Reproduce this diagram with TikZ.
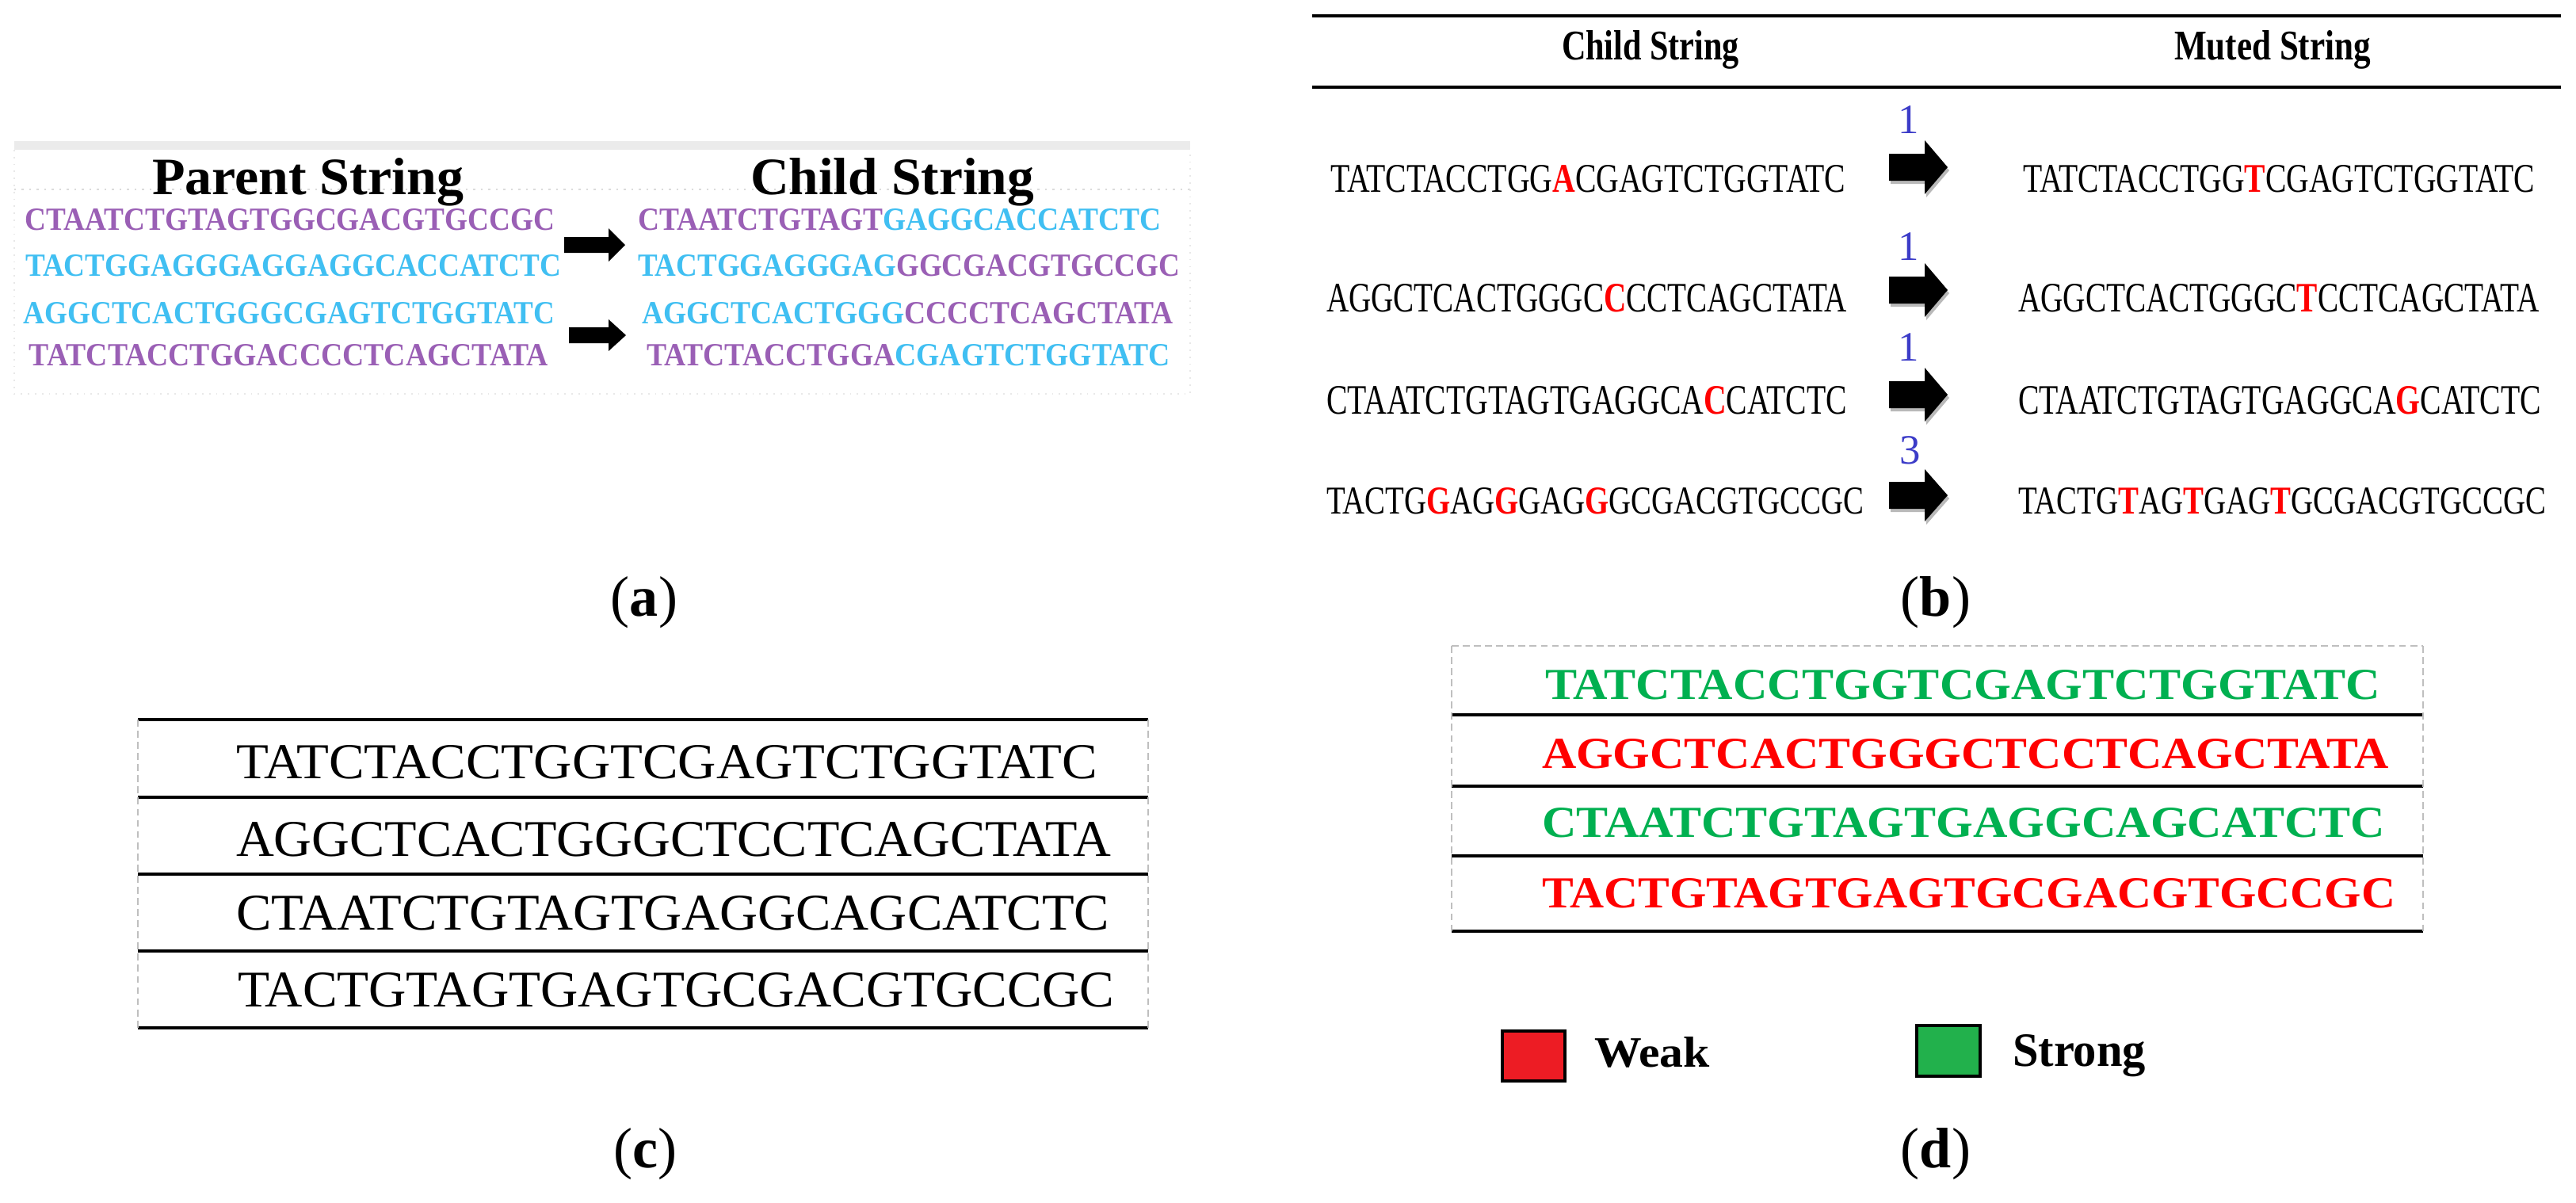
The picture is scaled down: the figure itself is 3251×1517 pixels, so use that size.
\documentclass[tikz,border=0pt]{standalone}
\usepackage{fontspec}
\setmainfont{Liberation Serif}
\usepackage{graphicx}
\definecolor{dpurple}{HTML}{9A5FB5}
\definecolor{dblue}{HTML}{40BFF2}
\definecolor{dgreen}{HTML}{00B050}
\definecolor{dred}{HTML}{FF0000}
\definecolor{lred}{HTML}{ED1C24}
\definecolor{lgreen}{HTML}{22B14C}
\definecolor{nblue}{HTML}{3C3CC8}
\newlength\pxu
\setlength\pxu{0.01cm}
\newcommand\fitbox[3]{\resizebox{#1\pxu}{#2\pxu}{#3}}
\newcommand\rl[1]{\textcolor{dred}{\textbf{#1}}}
% block arrow: x0 xhead xtip ycenter shafthalf headhalf
\newcommand\barrowfill[7]{%
  \fill[#7] (#1,#4-#5) -- (#2,#4-#5) -- (#2,#4-#6) -- (#3,#4) -- (#2,#4+#6) -- (#2,#4+#5) -- (#1,#4+#5) -- cycle;}
\newcommand\barrow[6]{%
  \begin{scope}[shift={(2,4)}]\barrowfill{#1}{#2}{#3}{#4}{#5}{#6}{gray!55}\end{scope}
  \barrowfill{#1}{#2}{#3}{#4}{#5}{#6}{black}}
\begin{document}
\begin{tikzpicture}[x=0.01cm,y=-0.01cm,
  txt/.style={anchor=base west,inner sep=0pt,outer sep=0pt},
  rulel/.style={line width=1.1pt,black},
  vdash/.style={gray!50,line width=0.5pt,dash pattern=on 2.5pt off 1.5pt},
  lab/.style={font=\fontsize{20.5}{20.5}\selectfont,inner sep=0pt},
  num/.style={text=nblue,anchor=base,inner sep=0pt,font=\fontsize{15}{15}\selectfont}]
\path[use as bounding box,fill=white] (0,0) rectangle (3251,1517);

% ---------------- panel (a) ----------------
\fill[gray!16] (18,178) rectangle (1502,189);
\draw[gray!28,dotted,line width=0.7pt] (18,239) -- (1502,239);
\draw[gray!18,dotted,line width=0.5pt] (18,189) -- (18,497) -- (1502,497) -- (1502,189);
\node[txt] (aph) at (192,245) {\fitbox{393}{46}{\bfseries Parent String}};
\node[txt] (ach) at (947,245) {\fitbox{358}{46}{\bfseries Child String}};
\node[txt] (ap1) at (32,290) {\fitbox{668}{27}{\bfseries\color{dpurple}CTAATCTGTAGTGGCGACGTGCCGC}};
\node[txt] (ap2) at (32,348) {\fitbox{676}{27}{\bfseries\color{dblue}TACTGGAGGGAGGAGGCACCATCTC}};
\node[txt] (ap3) at (30,408) {\fitbox{670}{27}{\bfseries\color{dblue}AGGCTCACTGGGCGAGTCTGGTATC}};
\node[txt] (ap4) at (37,461) {\fitbox{655}{27}{\bfseries\color{dpurple}TATCTACCTGGACCCCTCAGCTATA}};
\node[txt] (ac1) at (805,290) {\fitbox{660}{27}{\bfseries\textcolor{dpurple}{CTAATCTGTAGT}\textcolor{dblue}{GAGGCACCATCTC}}};
\node[txt] (ac2) at (805,348) {\fitbox{684}{27}{\bfseries\textcolor{dblue}{TACTGGAGGGAG}\textcolor{dpurple}{GGCGACGTGCCGC}}};
\node[txt] (ac3) at (810,408) {\fitbox{671}{27}{\bfseries\textcolor{dblue}{AGGCTCACTGGG}\textcolor{dpurple}{CCCCTCAGCTATA}}};
\node[txt] (ac4) at (816,461) {\fitbox{661}{27}{\bfseries\textcolor{dpurple}{TATCTACCTGGA}\textcolor{dblue}{CGAGTCTGGTATC}}};
\barrowfill{712}{768}{789}{309}{10}{21}{black}
\barrowfill{718}{768}{790}{423}{10}{20}{black}
\node[lab] (la) at (813,760) {(\textbf{a})};

% ---------------- panel (b) ----------------
\draw[rulel] (1656,20) -- (3232,20);
\draw[rulel] (1656,110) -- (3232,110);
\node[txt] (bch) at (1971,75) {\fitbox{224}{37}{\bfseries Child String}};
\node[txt] (bmh) at (2744,75) {\fitbox{248}{37}{\bfseries Muted String}};
\node[txt] (bl1) at (1679,242) {\fitbox{650}{34}{TATCTACCTGG\rl{A}CGAGTCTGGTATC}};
\node[txt] (bl2) at (1674,393) {\fitbox{657}{35}{AGGCTCACTGGGC\rl{C}CCTCAGCTATA}};
\node[txt] (bl3) at (1674,522) {\fitbox{657}{35}{CTAATCTGTAGTGAGGCA\rl{C}CATCTC}};
\node[txt] (bl4) at (1674,648) {\fitbox{678}{33}{TACTG\rl{G}AG\rl{G}GAG\rl{G}GCGACGTGCCGC}};
\node[txt] (br1) at (2553,242) {\fitbox{646}{34}{TATCTACCTGG\rl{T}CGAGTCTGGTATC}};
\node[txt] (br2) at (2547,393) {\fitbox{658}{35}{AGGCTCACTGGGC\rl{T}CCTCAGCTATA}};
\node[txt] (br3) at (2547,522) {\fitbox{660}{35}{CTAATCTGTAGTGAGGCA\rl{G}CATCTC}};
\node[txt] (br4) at (2547,648) {\fitbox{666}{33}{TACTG\rl{T}AG\rl{T}GAG\rl{T}GCGACGTGCCGC}};
\node[num] (n1) at (2409,168) {1};
\node[num] (n2) at (2409,328) {1};
\node[num] (n3) at (2409,455) {1};
\node[num] (n4) at (2411,585) {3};
\barrow{2384}{2429}{2458}{211}{17}{34}
\barrow{2384}{2429}{2458}{366}{17}{34}
\barrow{2384}{2429}{2458}{498}{17}{34}
\barrow{2384}{2429}{2458}{625}{17}{33}
\node[lab] (lb) at (2443,760) {(\textbf{b})};

% ---------------- panel (c) ----------------
\foreach \yy in {908,1006,1103,1200,1297} \draw[rulel] (174,\yy) -- (1449,\yy);
\draw[vdash] (174,908) -- (174,1297);
\draw[vdash] (1449,908) -- (1449,1297);
\node[txt] (c1) at (298,982) {\fitbox{1087}{42}{TATCTACCTGGTCGAGTCTGGTATC}};
\node[txt] (c2) at (298,1080) {\fitbox{1104}{43}{AGGCTCACTGGGCTCCTCAGCTATA}};
\node[txt] (c3) at (298,1173) {\fitbox{1102}{43}{CTAATCTGTAGTGAGGCAGCATCTC}};
\node[txt] (c4) at (300,1270) {\fitbox{1106}{43}{TACTGTAGTGAGTGCGACGTGCCGC}};
\node[lab] (lc) at (814,1456) {(\textbf{c})};

% ---------------- panel (d) ----------------
\draw[vdash] (1832,815) -- (3058,815);
\foreach \yy in {902,992,1080,1175} \draw[rulel] (1832,\yy) -- (3058,\yy);
\draw[vdash] (1832,815) -- (1832,1175);
\draw[vdash] (3058,815) -- (3058,1175);
\node[txt] (d1) at (1950,882) {\fitbox{1054}{37}{\bfseries\color{dgreen}TATCTACCTGGTCGAGTCTGGTATC}};
\node[txt] (d2) at (1946,969) {\fitbox{1069}{37}{\bfseries\color{dred}AGGCTCACTGGGCTCCTCAGCTATA}};
\node[txt] (d3) at (1946,1056) {\fitbox{1064}{37}{\bfseries\color{dgreen}CTAATCTGTAGTGAGGCAGCATCTC}};
\node[txt] (d4) at (1946,1145) {\fitbox{1077}{37}{\bfseries\color{dred}TACTGTAGTGAGTGCGACGTGCCGC}};
\node[draw,line width=1pt,fill=lred,minimum width=0.79cm,minimum height=0.63cm,inner sep=0pt,anchor=north west] (wbox) at (1894,1299) {};
\node[draw,line width=1pt,fill=lgreen,minimum width=0.80cm,minimum height=0.64cm,inner sep=0pt,anchor=north west] (sbox) at (2417,1292) {};
\node[txt] (wk) at (2012,1346) {\fitbox{146}{38}{\bfseries Weak}};
\node[txt] (st) at (2540,1345) {\fitbox{168}{40}{\bfseries Strong}};
\node[lab] (ld) at (2443,1456) {(\textbf{d})};
\end{tikzpicture}
\end{document}
